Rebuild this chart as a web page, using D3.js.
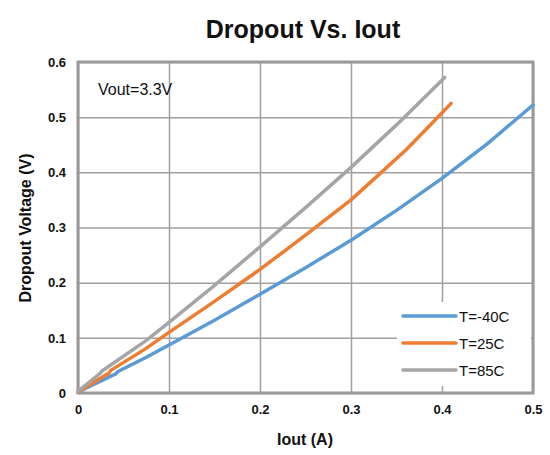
<!DOCTYPE html>
<html>
<head>
<meta charset="utf-8">
<script src="https://cdn.jsdelivr.net/npm/d3@7"></script>
<style>
  body { margin: 0; background: #fff; }
  text { font-family: "Liberation Sans", Arial, sans-serif; }
</style>
</head>
<body>
<div id="chart"></div>
<script>
// curves (Iout in A, dropout in V)
var seriesNames = ["T=-40C", "T=25C", "T=85C"];
var seriesColors = ["#5B9BD5", "#ED7D31", "#A5A5A5"];

var cold = [[0, 0.002], [0.038, 0.032], [0.041, 0.034], [0.044, 0.039],
            [0.074, 0.064], [0.1, 0.087], [0.15, 0.132], [0.2, 0.179], [0.25, 0.227],
            [0.3, 0.277], [0.35, 0.331], [0.4, 0.389], [0.45, 0.452], [0.5, 0.522]];
var room = [[0, 0.002], [0.031, 0.033], [0.034, 0.036], [0.036, 0.041],
            [0.074, 0.08], [0.1, 0.11], [0.15, 0.166], [0.2, 0.224], [0.25, 0.286],
            [0.3, 0.35], [0.33, 0.395], [0.36, 0.44], [0.385, 0.482], [0.41, 0.525]];
var hot = [[0, 0.003], [0.024, 0.035], [0.027, 0.041], [0.03, 0.044],
           [0.074, 0.094], [0.1, 0.128], [0.15, 0.195], [0.2, 0.265], [0.25, 0.336],
           [0.3, 0.409], [0.35, 0.486], [0.403, 0.572]];
var allSeries = [cold, room, hot];

var xTicks = [0, 0.1, 0.2, 0.3, 0.4, 0.5];
var yTicks = [0, 0.1, 0.2, 0.3, 0.4, 0.5, 0.6];

var W = 550, H = 455;
var plot = {left: 78, right: 533, top: 62, bottom: 393};

var svg = d3.select("#chart").append("svg")
    .attr("width", W)
    .attr("height", H);

var x = d3.scaleLinear().domain([0, 0.5]).range([plot.left, plot.right]);
var y = d3.scaleLinear().domain([0, 0.6]).range([plot.bottom, plot.top]);

// grid
svg.append("g")
    .attr("transform", "translate(0," + plot.bottom + ")")
    .call(d3.axisBottom(x).tickValues(xTicks).tickSize(-(plot.bottom - plot.top)).tickFormat(""))
    .call(function(g) { g.select(".domain").remove(); })
    .selectAll("line").attr("stroke", "#a0a0a0").attr("stroke-width", 1.5);

svg.append("g")
    .attr("transform", "translate(" + plot.left + ",0)")
    .call(d3.axisLeft(y).tickValues(yTicks).tickSize(-(plot.right - plot.left)).tickFormat(""))
    .call(function(g) { g.select(".domain").remove(); })
    .selectAll("line").attr("stroke", "#a0a0a0").attr("stroke-width", 1.5);

// frame
svg.append("rect")
    .attr("x", plot.left).attr("y", plot.top)
    .attr("width", plot.right - plot.left).attr("height", plot.bottom - plot.top)
    .attr("fill", "none").attr("stroke", "#999").attr("stroke-width", 3);

// tick labels
svg.append("g")
    .attr("transform", "translate(0," + plot.bottom + ")")
    .call(d3.axisBottom(x).tickValues(xTicks).tickSize(0).tickPadding(12)
        .tickFormat(function(d) { return d === 0 ? "0" : d3.format(".1f")(d); }))
    .call(function(g) { g.select(".domain").remove(); })
    .selectAll("text")
        .attr("font-size", 13).attr("font-weight", "bold").attr("fill", "#111")
        .style("font-family", "Liberation Sans, Arial, sans-serif");

svg.append("g")
    .attr("transform", "translate(" + plot.left + ",0)")
    .call(d3.axisLeft(y).tickValues(yTicks).tickSize(0).tickPadding(12)
        .tickFormat(function(d) { return d === 0 ? "0" : d3.format(".1f")(d); }))
    .call(function(g) { g.select(".domain").remove(); })
    .selectAll("text")
        .attr("font-size", 13).attr("font-weight", "bold").attr("fill", "#111")
        .style("font-family", "Liberation Sans, Arial, sans-serif");

// lines
var line = d3.line()
    .x(function(d) { return x(d[0]); })
    .y(function(d) { return y(d[1]); });

svg.append("g")
    .selectAll("path")
    .data(allSeries)
    .enter().append("path")
        .attr("d", line)
        .attr("fill", "none")
        .attr("stroke", function(d, i) { return seriesColors[i]; })
        .attr("stroke-width", 3.5)
        .attr("stroke-linecap", "round")
        .attr("stroke-linejoin", "round");

// annotation
svg.append("text")
    .attr("x", 98).attr("y", 95)
    .attr("font-size", 16)
    .attr("fill", "#111")
    .text("Vout=3.3V");

// legend
var legend = svg.append("g").attr("transform", "translate(397,302)");
legend.append("rect")
    .attr("width", 134).attr("height", 84)
    .attr("fill", "#fff");
var items = legend.selectAll("g.item")
    .data(seriesNames)
    .enter().append("g")
        .attr("class", "item")
        .attr("transform", function(d, i) { return "translate(0," + (14 + i * 27) + ")"; });
items.append("line")
    .attr("x1", 6).attr("x2", 59)
    .attr("stroke", function(d, i) { return seriesColors[i]; })
    .attr("stroke-width", 3.5)
    .attr("stroke-linecap", "round");
items.append("text")
    .attr("x", 62).attr("y", 6)
    .attr("font-size", 15)
    .attr("fill", "#111")
    .text(function(d) { return d; });

// titles
svg.append("text")
    .attr("x", 303).attr("y", 38)
    .attr("text-anchor", "middle")
    .attr("font-size", 25).attr("font-weight", "bold")
    .attr("fill", "#111")
    .text("Dropout Vs. Iout");

svg.append("text")
    .attr("x", 305).attr("y", 445)
    .attr("text-anchor", "middle")
    .attr("font-size", 16).attr("font-weight", "bold")
    .attr("fill", "#111")
    .text("Iout (A)");

svg.append("text")
    .attr("transform", "translate(31,228) rotate(-90)")
    .attr("text-anchor", "middle")
    .attr("font-size", 16).attr("font-weight", "bold")
    .attr("fill", "#111")
    .text("Dropout Voltage (V)");
</script>
</body>
</html>
